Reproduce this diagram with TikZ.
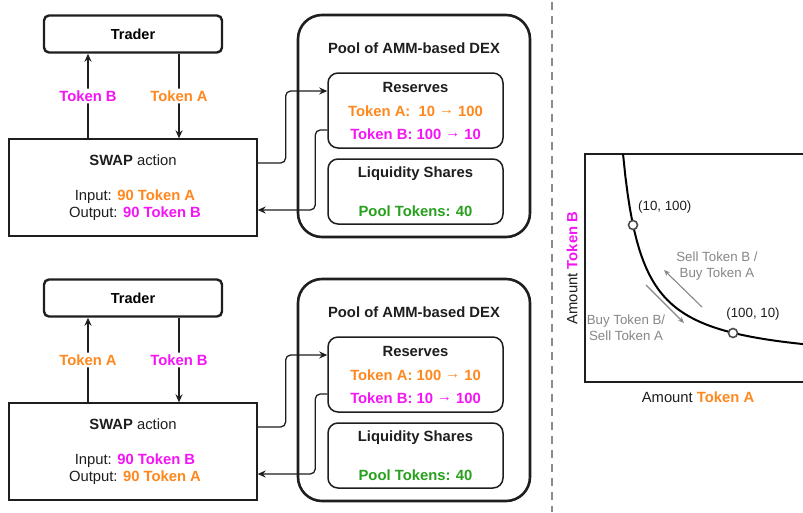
\documentclass[tikz,border=0pt]{standalone}
\usepackage{fontspec}
\setmainfont{Liberation Sans}
\usetikzlibrary{arrows.meta}
\definecolor{tokA}{RGB}{255,136,30}
\definecolor{tokB}{RGB}{245,20,245}
\definecolor{poolgreen}{RGB}{40,160,30}
\definecolor{ink}{RGB}{30,30,30}
\definecolor{note}{RGB}{135,135,135}
\newcommand{\TA}[1]{\textcolor{tokA}{\bfseries #1}}
\newcommand{\TB}[1]{\textcolor{tokB}{\bfseries #1}}
\newcommand{\goesto}{\raisebox{2.2pt}{\textrightarrow}}
\tikzset{
  traderbox/.style={draw=ink, line width=2.4pt, rounded corners=5pt, minimum width=178pt, minimum height=37pt, font=\bfseries\fontsize{14.5}{17}\selectfont},
  swapbox/.style={draw=ink, line width=1.3pt, minimum width=248pt, minimum height=97pt},
  poolbox/.style={draw=ink, line width=2.6pt, rounded corners=24pt, minimum width=232pt, minimum height=222pt},
  subbox/.style={draw=ink, line width=1.5pt, rounded corners=10pt, minimum width=175pt},
  flow/.style={-{Stealth[length=8pt,width=7pt]}, draw=ink, line width=1.3pt, rounded corners=5pt},
  tokenlabel/.style={fill=white, inner sep=2pt, font=\bfseries\fontsize{14.8}{17}\selectfont},
  txt/.style={text=ink, inner sep=0pt, font=\fontsize{14.8}{17}\selectfont},
  hd/.style={text=ink, inner sep=0pt, font=\bfseries\fontsize{14.8}{17}\selectfont},
  small/.style={text=ink, inner sep=0pt, font=\fontsize{13.3}{16}\selectfont},
  remark/.style={text=note, inner sep=0pt, align=center, font=\fontsize{13.3}{16}\selectfont},
  ring/.style={circle, draw=black!70, fill=white, line width=1.6pt, minimum size=9pt, inner sep=0pt},
  trend/.style={-{Stealth[length=6pt,width=5pt]}, draw=note, line width=1.1pt}
}

\begin{document}
\begin{tikzpicture}[x=1pt, y=-1pt]
			%%%%% START %%%%%
			
			\useasboundingbox (0,0) rectangle (803,512);
			\fill[white] (0,0) rectangle (803,512);
			
			% upper swap: token A in, token B out
			\node[traderbox] (trader1) at (133,34) {Trader};
			\node[swapbox] (swap1) at (133,187.5) {};
			\node[txt] (swap1head) at (133,160) {\textbf{SWAP} action};
			\node[txt] (swap1in) at (135,197) {Input: \TA{90 Token A}};
			\node[txt] (swap1out) at (135,214) {Output: \TB{90 Token B}};
			
			\draw[flow] ([xshift=-45pt]swap1.north) -- ([xshift=-45pt]trader1.south) node[midway, tokenlabel, text=tokB] {Token B};
			\draw[flow] ([xshift=46pt]trader1.south) -- ([xshift=46pt]swap1.north) node[midway, tokenlabel, text=tokA] {Token A};
			
			\node[poolbox] (pool1) at (414,126) {};
			\node[hd] (pool1head) at (414,48) {Pool of AMM-based DEX};
			\node[subbox, minimum height=75pt] (res1) at (415.5,110.5) {};
			\node[hd] (res1head) at (415.5,87) {Reserves};
			\node[hd, text=tokA] (res1a) at (415.5,111) {Token A:\ \ 10 \goesto{} 100};
			\node[hd, text=tokB] (res1b) at (415.5,134) {Token B: 100 \goesto{} 10};
			\node[subbox, minimum height=65pt] (liq1) at (415.5,191.5) {};
			\node[hd] (liq1head) at (415.5,174) {Liquidity Shares};
			\node[hd, text=poolgreen] (liq1val) at (415.5,211) {Pool Tokens: 40};
			
			\draw[flow] ([yshift=24.5pt]swap1.east) -- ++(28,0) |- ([yshift=19.5pt]res1.west);
			\draw[flow] ([yshift=-19.5pt]res1.west) -- ++(-12,0) |- ([yshift=-22.5pt]swap1.east);
			
			% lower swap: token B in, token A out
			\begin{scope}[shift={(0,264)}]
			\node[traderbox] (trader2) at (133,34) {Trader};
			\node[swapbox] (swap2) at (133,187.5) {};
			\node[txt] (swap2head) at (133,160) {\textbf{SWAP} action};
			\node[txt] (swap2in) at (135,197) {Input: \TB{90 Token B}};
			\node[txt] (swap2out) at (135,214) {Output: \TA{90 Token A}};
			
			\draw[flow] ([xshift=-45pt]swap2.north) -- ([xshift=-45pt]trader2.south) node[midway, tokenlabel, text=tokA] {Token A};
			\draw[flow] ([xshift=46pt]trader2.south) -- ([xshift=46pt]swap2.north) node[midway, tokenlabel, text=tokB] {Token B};
			
			\node[poolbox] (pool2) at (414,126) {};
			\node[hd] (pool2head) at (414,48) {Pool of AMM-based DEX};
			\node[subbox, minimum height=75pt] (res2) at (415.5,110.5) {};
			\node[hd] (res2head) at (415.5,87) {Reserves};
			\node[hd, text=tokA] (res2a) at (415.5,111) {Token A: 100 \goesto{} 10};
			\node[hd, text=tokB] (res2b) at (415.5,134) {Token B: 10 \goesto{} 100};
			\node[subbox, minimum height=65pt] (liq2) at (415.5,191.5) {};
			\node[hd] (liq2head) at (415.5,174) {Liquidity Shares};
			\node[hd, text=poolgreen] (liq2val) at (415.5,211) {Pool Tokens: 40};
			
			\draw[flow] ([yshift=24.5pt]swap2.east) -- ++(28,0) |- ([yshift=19.5pt]res2.west);
			\draw[flow] ([yshift=-19.5pt]res2.west) -- ++(-12,0) |- ([yshift=-22.5pt]swap2.east);
			\end{scope}
			
			% divider
			\draw[black!45, line width=2pt, dash pattern=on 8pt off 6pt] (552,2) -- (552,512);
			
			% constant product curve
			\draw[ink, line width=1.2pt] (810,154) -- (585,154) -- (585,382) -- (810,382);
			\draw[black, line width=2pt] plot[domain=623:806, samples=80] (\x, {364.9-4160/(\x-603.3)});
			\node[ring] (ab1) at (633,225) {};
			\node[ring] (ab2) at (733,333) {};
			\node[small, anchor=west] at (638,207) {(10, 100)};
			\node[small] at (753,314) {(100, 10)};
			
			\draw[trend] (702,307) -- (664,270);
			\draw[trend] (646,285) -- (684,323);
			\node[remark] at (717,266) {Sell Token B /\\Buy Token A};
			\node[remark] at (626,328) {Buy Token B/\\Sell Token A};
			
			\node[txt] at (698,397) {Amount \TA{Token A}};
			\node[txt, rotate=90] at (572,268) {Amount \TB{Token B}};
			
			%%%%% END %%%%%
\end{tikzpicture}
\end{document}
